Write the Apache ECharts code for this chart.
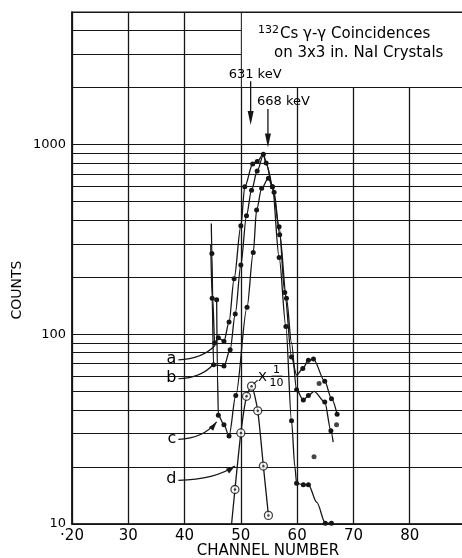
<!DOCTYPE html>
<html>
<head>
<meta charset="utf-8">
<script src="https://cdn.jsdelivr.net/npm/echarts/dist/echarts.min.js"></script>
<style>
  html, body { margin: 0; padding: 0; background: #fff; }
  #chart { width: 462px; height: 558px; }
</style>
</head>
<body>
<div id="chart"></div>
<script>
// values: channel number / counts
const aChan   = [44.75, 44.85, 45.0, 45.35, 46.0, 47.0, 47.9, 48.8, 50.0, 50.7, 52.1, 52.9, 54.0, 54.5, 55.6, 56.8, 57.8, 59.0, 59.9, 61.0, 62.0, 62.9, 64.9, 66.1, 67.1];
const aCounts = [384, 267, 155, 90, 96, 92, 116, 196, 373, 600, 790, 815, 890, 800, 600, 369, 166, 76, 61, 66, 73, 74, 56.6, 45.8, 37.9];
const aBare   = [0, 2, 18];

const bChan   = [44.65, 44.9, 45.15, 47.0, 48.1, 49.0, 50.0, 51.0, 51.9, 52.9, 54.0, 54.6, 55.9, 56.9, 58.1, 59.0, 59.9, 61.1, 62.0, 63.0, 64.9, 66.0, 66.4];
const bCounts = [297, 155, 69, 68, 83, 128, 232, 422, 575, 726, 880, 780, 560, 335, 155, 90, 51, 45, 47.6, 50, 44, 31, 27];
const bBare   = [0, 10, 11, 15, 19, 22];

const cChan   = [45.7, 45.85, 46.0, 47.0, 47.9, 49.1, 51.1, 52.2, 52.8, 53.7, 54.9, 55.6, 56.8, 58.0, 59.0, 59.6, 59.9, 61.1, 62.0, 63.5, 65.0, 66.1];
const cCounts = [152, 60, 37.4, 33.4, 29.1, 47.6, 139, 270, 452, 589, 665, 599, 254, 110, 35, 20, 16.4, 16.1, 16.1, 13, 10.1, 10.1];
const cBare   = [1, 15, 19];

// curve d is plotted x 1/10; the first entry is where the drawn line leaves the axis
const dChan   = [48.35, 48.95, 50.0, 51.0, 51.9, 53.0, 54.0, 54.9];
const dCounts = [10, 15.2, 30.2, 47.1, 53.3, 39.5, 20.2, 11.1];

// stray points not on a drawn curve
const strayChan   = [63.0, 63.9, 67.0];
const strayCounts = [22.6, 55, 33.4];

const xTicks = [20, 30, 40, 50, 60, 70, 80];
const yTicks = [10, 100, 1000];
const minorCounts = [20, 30, 40, 50, 60, 70, 80, 90, 200, 300, 400, 500, 600, 700, 800, 900, 2000, 3000, 4000];

// annotations, in data coordinates
const keVNotes = [
  { text: '631 keV', ch: 51.74, top: 2160, tip: 1270, dx: -22 },
  { text: '668 keV', ch: 54.81, top: 1540, tip: 965, dx: -11 }
];
const leaders = [
  { label: 'a', from: [38.9, 73.4], to: [45.4, 87.3], arrow: false },
  { label: 'b', from: [38.9, 58.3], to: [45.1, 69.3], arrow: false },
  { label: 'c', from: [38.9, 27.9], to: [45.7, 34.5], arrow: true },
  { label: 'd', from: [38.9, 17.0], to: [48.95, 20.2], arrow: true }
];

const ink = '#161616';
const font = 'DejaVu Sans';

const chart = echarts.init(document.getElementById('chart'));

function curve (chans, counts, bare) {
  return {
    type: 'line',
    smooth: 0.3,
    smoothMonotone: 'x',
    symbol: 'circle',
    symbolSize: 5,
    showAllSymbol: true,
    data: chans.map((c, i) => bare.includes(i) ? { value: [c, counts[i]], symbol: 'none' } : [c, counts[i]]),
    color: ink,
    lineStyle: { color: ink, width: 1.3 },
    itemStyle: { color: ink },
    z: 3
  };
}

const option = {
  backgroundColor: '#fff',
  animation: false,
  grid: {
    left: 72, top: 12, width: 394, height: 512,
    outerBoundsMode: 'none', containLabel: false,
    show: true, borderColor: ink, borderWidth: 1.2
  },
  xAxis: {
    type: 'value',
    min: 20,
    max: 90,
    interval: 10,
    axisLine: { show: true, lineStyle: { color: ink, width: 1.6 } },
    axisTick: { show: false },
    splitLine: { show: true, lineStyle: { color: ink, width: 1.3 } },
    axisLabel: {
      color: '#000', fontFamily: font, fontSize: 15, margin: 5,
      formatter: v => xTicks.includes(v) ? (v === 20 ? '·20' : String(v)) : ''
    }
  },
  yAxis: {
    type: 'log',
    logBase: 10,
    min: 10,
    max: 5000,
    axisLine: { show: true, lineStyle: { color: ink, width: 1.6 } },
    axisTick: { show: false },
    splitLine: { show: true, lineStyle: { color: ink, width: 1.1 } },
    axisLabel: {
      color: '#000', fontFamily: font, fontSize: 13, margin: 6,
      formatter: v => yTicks.includes(Math.round(v)) ? String(Math.round(v)) : ''
    }
  },
  series: [
    {
      type: 'line',
      data: [],
      silent: true,
      z: 1,
      markLine: {
        silent: true,
        animation: false,
        symbol: ['none', 'none'],
        label: { show: false },
        lineStyle: { color: ink, width: 1, type: 'solid' },
        data: minorCounts.map(v => ({ yAxis: v }))
      }
    },
    curve(aChan, aCounts, aBare),
    curve(bChan, bCounts, bBare),
    curve(cChan, cCounts, cBare),
    {
      type: 'scatter',
      symbolSize: 5,
      data: strayChan.map((c, i) => [c, strayCounts[i]]),
      itemStyle: { color: ink },
      z: 3
    },
    {
      type: 'line',
      smooth: 0.2,
      symbol: 'none',
      data: dChan.map((c, i) => [c, dCounts[i]]),
      lineStyle: { color: ink, width: 1.3 },
      z: 6
    },
    {
      type: 'scatter',
      symbol: 'circle',
      symbolSize: 8,
      data: dChan.slice(1).map((c, i) => [c, dCounts[i + 1]]),
      itemStyle: { color: '#fff', borderColor: ink, borderWidth: 1.3 },
      z: 7
    },
    {
      type: 'scatter',
      symbolSize: 2.5,
      data: dChan.slice(1).map((c, i) => [c, dCounts[i + 1]]),
      itemStyle: { color: ink },
      z: 8
    }
  ]
};

chart.setOption(option);

const px = (ch, n) => chart.convertToPixel({ gridIndex: 0 }, [ch, n]);

function head (tip, from, len, half) {
  const dx = tip[0] - from[0], dy = tip[1] - from[1];
  const L = Math.hypot(dx, dy);
  const ux = dx / L, uy = dy / L;
  const bx = tip[0] - ux * len, by = tip[1] - uy * len;
  return {
    type: 'polygon', z: 120,
    shape: { points: [tip, [bx - uy * half, by + ux * half], [bx + uy * half, by - ux * half]] },
    style: { fill: ink }
  };
}

const g = [];

// white panel behind the title
const boxCorner = px(50, 2000);
const topY = px(20, 5000)[1];
g.push({
  type: 'rect', z: 100,
  shape: { x: boxCorner[0] + 1, y: topY + 1, width: 470 - boxCorner[0], height: boxCorner[1] - topY - 1.6 },
  style: { fill: '#fff' }
});
g.push({
  type: 'text', z: 110, x: 258, y: 34,
  style: {
    text: '{s|132}{t|Cs γ-γ Coincidences}',
    verticalAlign: 'middle',
    rich: {
      s: { fontFamily: font, fontSize: 11, fill: '#000', verticalAlign: 'top', padding: [0, 1, 8, 0] },
      t: { fontFamily: font, fontSize: 15, fill: '#000' }
    }
  }
});
g.push({
  type: 'text', z: 110, x: 274, y: 53,
  style: { text: 'on 3x3 in. NaI Crystals', fontFamily: font, fontSize: 15, fill: '#000', verticalAlign: 'middle' }
});

keVNotes.forEach(n => {
  const t = px(n.ch, n.top), h = px(n.ch, n.tip);
  g.push({ type: 'line', z: 115, shape: { x1: t[0], y1: t[1], x2: h[0], y2: h[1] - 8 }, style: { stroke: ink, lineWidth: 1.3 } });
  g.push(head(h, t, 14, 3));
  g.push({
    type: 'text', z: 115, x: t[0] + n.dx, y: t[1] - 7,
    style: { text: n.text, fontFamily: font, fontSize: 13, fill: '#000', verticalAlign: 'middle' }
  });
});

leaders.forEach(l => {
  const s = px(l.from[0], l.from[1]), e = px(l.to[0], l.to[1]);
  const cp = [s[0] + 0.65 * (e[0] - s[0]), s[1] + 0.05 * (e[1] - s[1])];
  g.push({
    type: 'bezierCurve', z: 115,
    shape: { x1: s[0], y1: s[1], x2: e[0], y2: e[1], cpx1: cp[0], cpy1: cp[1] },
    style: { stroke: ink, lineWidth: 1.2, fill: null }
  });
  if (l.arrow) g.push(head(e, cp, 9, 2.8));
  g.push({
    type: 'text', z: 115, x: s[0] - 2, y: s[1] - 1,
    style: { text: l.label, fontFamily: font, fontSize: 16, fill: '#000', align: 'right', verticalAlign: 'middle' }
  });
});

// "X 1/10" tag beside the peak of d
const dPeak = px(51.9, 53.3);
g.push({ type: 'line', z: 115, shape: { x1: dPeak[0] + 6, y1: dPeak[1] - 6, x2: dPeak[0] + 2, y2: dPeak[1] - 2 }, style: { stroke: ink, lineWidth: 1.1 } });
g.push({ type: 'text', z: 115, x: dPeak[0] + 11, y: dPeak[1] - 9, style: { text: 'X', fontFamily: font, fontSize: 13, fill: '#000', align: 'center', verticalAlign: 'middle' } });
g.push({ type: 'text', z: 115, x: dPeak[0] + 25, y: dPeak[1] - 16, style: { text: '1', fontFamily: font, fontSize: 11, fill: '#000', align: 'center', verticalAlign: 'middle' } });
g.push({ type: 'line', z: 115, shape: { x1: dPeak[0] + 20, y1: dPeak[1] - 10, x2: dPeak[0] + 31, y2: dPeak[1] - 10 }, style: { stroke: ink, lineWidth: 1 } });
g.push({ type: 'text', z: 115, x: dPeak[0] + 25, y: dPeak[1] - 3, style: { text: '10', fontFamily: font, fontSize: 11, fill: '#000', align: 'center', verticalAlign: 'middle' } });

// axis titles
g.push({ type: 'text', z: 110, x: 268, y: 551, style: { text: 'CHANNEL NUMBER', fontFamily: font, fontSize: 15, fill: '#000', align: 'center', verticalAlign: 'middle' } });
g.push({ type: 'text', z: 110, x: 17, y: 290, rotation: Math.PI / 2, style: { text: 'COUNTS', fontFamily: font, fontSize: 14, fill: '#000', align: 'center', verticalAlign: 'middle' } });

chart.setOption({ graphic: { elements: g } });
</script>
</body>
</html>
